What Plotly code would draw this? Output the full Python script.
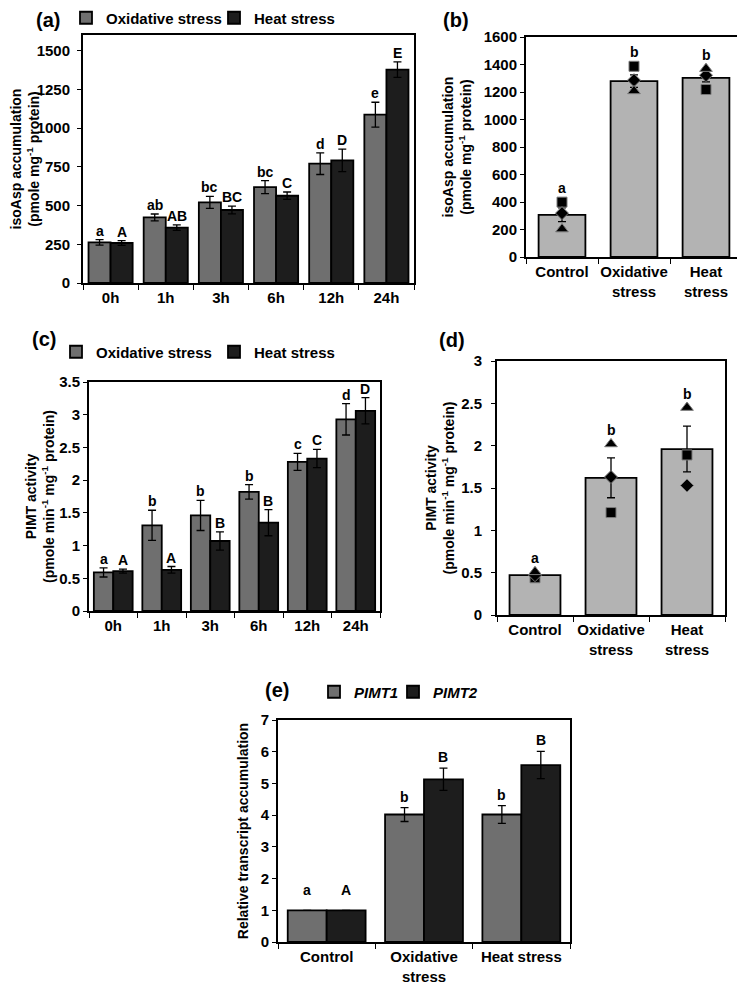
import plotly.graph_objects as go

FONT = "Liberation Sans, Arial, sans-serif"
WIN_W, WIN_H = 745, 984
PAGE_MARGIN = 8                      # default body margin of the html page
W, H = WIN_W - PAGE_MARGIN, WIN_H - PAGE_MARGIN
OX_COLOR = "#6f6f6f"
HEAT_COLOR = "#1d1d1d"
LIGHT = "#b3b3b3"

# ---------------- data ----------------
# (a) isoAsp accumulation time course
a_times = ["0h", "1h", "3h", "6h", "12h", "24h"]
a_oxid = [262, 423, 520, 619, 770, 1086]
a_oxid_err = [18, 22, 39, 42, 70, 80]
a_heat = [258, 357, 471, 563, 791, 1376]
a_heat_err = [15, 18, 25, 24, 73, 50]
a_oxid_letters = ["a", "ab", "bc", "bc", "d", "e"]
a_heat_letters = ["A", "AB", "BC", "C", "D", "E"]
a_yticks = [0, 250, 500, 750, 1000, 1250, 1500]

# (b) isoAsp accumulation, treatments with replicates
b_cats = ["Control", "Oxidative<br>stress", "Heat<br>stress"]
b_mean = [307, 1279, 1303]
b_err = [50, 45, 30]
b_rep_square = [399, 1387, 1218]
b_rep_diamond = [319, 1286, 1322]
b_rep_triangle = [203, 1208, 1370]
b_letters = ["a", "b", "b"]
b_yticks = [0, 200, 400, 600, 800, 1000, 1200, 1400, 1600]

# (c) PIMT activity time course
c_times = ["0h", "1h", "3h", "6h", "12h", "24h"]
c_oxid = [0.59, 1.31, 1.46, 1.82, 2.28, 2.93]
c_oxid_err = [0.07, 0.23, 0.23, 0.11, 0.13, 0.24]
c_heat = [0.61, 0.63, 1.07, 1.35, 2.33, 3.06]
c_heat_err = [0.03, 0.05, 0.14, 0.20, 0.14, 0.20]
c_oxid_letters = ["a", "b", "b", "b", "c", "d"]
c_heat_letters = ["A", "A", "B", "B", "C", "D"]
c_yticks = [0, 0.5, 1, 1.5, 2, 2.5, 3, 3.5]

# (d) PIMT activity, treatments with replicates
d_cats = ["Control", "Oxidative<br>stress", "Heat<br>stress"]
d_mean = [0.47, 1.62, 1.96]
d_err = [0.03, 0.235, 0.27]
d_rep_square = [0.44, 1.21, 1.89]
d_rep_diamond = [0.47, 1.63, 1.53]
d_rep_triangle = [0.51, 2.02, 2.45]
d_letters = ["a", "b", "b"]
d_yticks = [0, 0.5, 1, 1.5, 2, 2.5, 3]

# (e) relative transcript accumulation
e_cats = ["Control", "Oxidative<br>stress", "Heat stress"]
e_pimt1 = [1.0, 4.02, 4.02]
e_pimt1_err = [0, 0.22, 0.28]
e_pimt2 = [1.0, 5.13, 5.58]
e_pimt2_err = [0, 0.35, 0.43]
e_pimt1_letters = ["a", "b", "b"]
e_pimt2_letters = ["A", "B", "B"]
e_yticks = [0, 1, 2, 3, 4, 5, 6, 7]


# ---------------- helpers (window pixels -> paper fractions) ----------------
def fx(x):
    return (x - PAGE_MARGIN) / W


def fy(y):
    return 1 - (y - PAGE_MARGIN) / H


def dom_x(left, right):
    return [fx(left), fx(right)]


def dom_y(top, bottom):
    return [fy(bottom), fy(top)]


BOLD = dict(family=FONT, color="black", size=14, weight="bold")
TICK = dict(family=FONT, color="black", size=15, weight="bold")

fig = go.Figure()
anns = []


def bar(x, y, err, color, name, xa, ya, legend=None, width=None, legendwidth=None):
    fig.add_trace(go.Bar(
        x=x, y=y, name=name, xaxis=xa, yaxis=ya,
        marker=dict(color=color, line=dict(color="black", width=1.8)),
        error_y=dict(type="data", array=err, color="black", thickness=1.3, width=4),
        showlegend=legend is not None, legend=legend or "legend",
        width=width, legendwidth=legendwidth,
    ))


def reps(x, ys, symbol, size, xa, ya):
    fig.add_trace(go.Scatter(
        x=x, y=ys, mode="markers", xaxis=xa, yaxis=ya, showlegend=False,
        marker=dict(symbol=symbol, size=size, color="black",
                    line=dict(color="#7a7a7a", width=1)),
    ))


def letters(xa, ya, tops, labels, offset, shift):
    for i, (t, lab) in enumerate(zip(tops, labels)):
        anns.append(dict(x=i + offset, y=t, xref=xa, yref=ya, text=lab,
                         showarrow=False, yanchor="bottom", yshift=shift,
                         font=BOLD))


# (a)
bar(a_times, a_oxid, a_oxid_err, OX_COLOR, "Oxidative stress", "x", "y",
    legend="legend", legendwidth=103)
bar(a_times, a_heat, a_heat_err, HEAT_COLOR, "Heat stress", "x", "y",
    legend="legend", legendwidth=82)
letters("x", "y", [m + e for m, e in zip(a_oxid, a_oxid_err)], a_oxid_letters, -0.2, -1)
letters("x", "y", [m + e for m, e in zip(a_heat, a_heat_err)], a_heat_letters, 0.2, -1)

# (b)
bar(b_cats, b_mean, b_err, LIGHT, "isoAsp", "x2", "y2", width=0.65)
reps(b_cats, b_rep_square, "square", 10, "x2", "y2")
reps(b_cats, b_rep_diamond, "diamond", 10, "x2", "y2")
reps(b_cats, b_rep_triangle, "triangle-up", 11, "x2", "y2")
b_tops = [max(m + e, s, d, t) for m, e, s, d, t in
          zip(b_mean, b_err, b_rep_square, b_rep_diamond, b_rep_triangle)]
letters("x2", "y2", b_tops, b_letters, 0, 4)

# (c)
bar(c_times, c_oxid, c_oxid_err, OX_COLOR, "Oxidative stress", "x3", "y3",
    legend="legend2", legendwidth=113)
bar(c_times, c_heat, c_heat_err, HEAT_COLOR, "Heat stress", "x3", "y3",
    legend="legend2", legendwidth=82)
letters("x3", "y3", [m + e for m, e in zip(c_oxid, c_oxid_err)], c_oxid_letters, -0.2, -1)
letters("x3", "y3", [m + e for m, e in zip(c_heat, c_heat_err)], c_heat_letters, 0.2, -1)

# (d)
bar(d_cats, d_mean, d_err, LIGHT, "PIMT", "x4", "y4", width=0.67)
reps(d_cats, d_rep_square, "square", 10, "x4", "y4")
reps(d_cats, d_rep_diamond, "diamond", 10, "x4", "y4")
reps(d_cats, d_rep_triangle, "triangle-up", 11, "x4", "y4")
d_tops = [max(m + e, s, d, t) for m, e, s, d, t in
          zip(d_mean, d_err, d_rep_square, d_rep_diamond, d_rep_triangle)]
letters("x4", "y4", d_tops, d_letters, 0, 4)

# (e)
bar(e_cats, e_pimt1, e_pimt1_err, OX_COLOR, "<i>PIMT1</i>", "x5", "y5",
    legend="legend3", legendwidth=34)
bar(e_cats, e_pimt2, e_pimt2_err, HEAT_COLOR, "<i>PIMT2</i>", "x5", "y5",
    legend="legend3", legendwidth=48)
letters("x5", "y5", [m + e + (0.3 if e == 0 else 0) for m, e in zip(e_pimt1, e_pimt1_err)],
        e_pimt1_letters, -0.2, 1)
letters("x5", "y5", [m + e + (0.3 if e == 0 else 0) for m, e in zip(e_pimt2, e_pimt2_err)],
        e_pimt2_letters, 0.2, 1)

# panel labels
for lab, x, y in [("(a)", 48, 20), ("(b)", 456, 20), ("(c)", 44, 339),
                  ("(d)", 452, 340), ("(e)", 277, 690)]:
    anns.append(dict(x=fx(x), y=fy(y), xref="paper", yref="paper", text=lab,
                     showarrow=False, xanchor="center", yanchor="middle",
                     font=dict(family=FONT, size=20, color="black", weight="bold")))


def xax(domain, anchor):
    return dict(domain=domain, anchor=anchor, type="category", showline=True,
                linecolor="black", linewidth=2, mirror=True, ticks="outside",
                tickson="boundaries", ticklen=5, tickwidth=1.2, tickcolor="black",
                tickangle=0, showgrid=False, zeroline=False, tickfont=TICK,
                fixedrange=True, automargin=False)


def yax(domain, anchor, rng, ticks, title, label_off=0, title_off=9):
    return dict(domain=domain, anchor=anchor, range=rng, tickvals=ticks,
                showline=True, linecolor="black", linewidth=2, mirror=True,
                ticks="outside", ticklen=4, tickwidth=1.2, tickcolor="black",
                ticklabelstandoff=label_off,
                showgrid=False, zeroline=False, tickfont=TICK, automargin=False,
                title=dict(text=title, font=BOLD, standoff=title_off), fixedrange=True)


LEG = dict(orientation="h", xanchor="left", yanchor="middle", bgcolor="rgba(0,0,0,0)",
           font=dict(family=FONT, size=15, color="black", weight="bold"),
           traceorder="normal", itemclick=False, itemdoubleclick=False,
           tracegroupgap=0)

fig.update_layout(
    width=W, height=H,
    margin=dict(l=0, r=0, t=0, b=0, autoexpand=False),
    paper_bgcolor="white", plot_bgcolor="white",
    font=dict(family=FONT, color="black", size=14, weight="bold"),
    barmode="group", bargap=0.2, bargroupgap=0,
    xaxis=xax(dom_x(83, 414), "y"),
    yaxis=yax(dom_y(35, 283), "x", [0, 1600], a_yticks,
              "isoAsp accumulation<br>(pmole mg<sup>-1</sup> protein)",
              label_off=4, title_off=6),
    xaxis2=xax(dom_x(526, 742), "y2"),
    yaxis2=yax(dom_y(37, 257), "x2", [0, 1600], b_yticks,
               "isoAsp accumulation<br>(pmole mg<sup>-1</sup> protein)"),
    xaxis3=xax(dom_x(89, 380), "y3"),
    yaxis3=yax(dom_y(382, 611), "x3", [0, 3.5], c_yticks,
               "PIMT activity<br>(pmole min<sup>-1</sup> mg<sup>-1</sup> protein)",
               title_off=1),
    xaxis4=xax(dom_x(497, 725), "y4"),
    yaxis4=yax(dom_y(361, 615), "x4", [0, 3], d_yticks,
               "PIMT activity<br>(pmole min<sup>-1</sup> mg<sup>-1</sup> protein)",
               label_off=6, title_off=3),
    xaxis5=xax(dom_x(278, 570), "y5"),
    yaxis5=yax(dom_y(720, 942), "x5", [0, 7], e_yticks,
               "Relative transcript accumulation"),
    legend=dict(LEG, x=fx(66), y=fy(18)),
    legend2=dict(LEG, x=fx(56), y=fy(352)),
    legend3=dict(LEG, x=fx(314), y=fy(692)),
    annotations=anns,
)

fig.write_html("out.html")
